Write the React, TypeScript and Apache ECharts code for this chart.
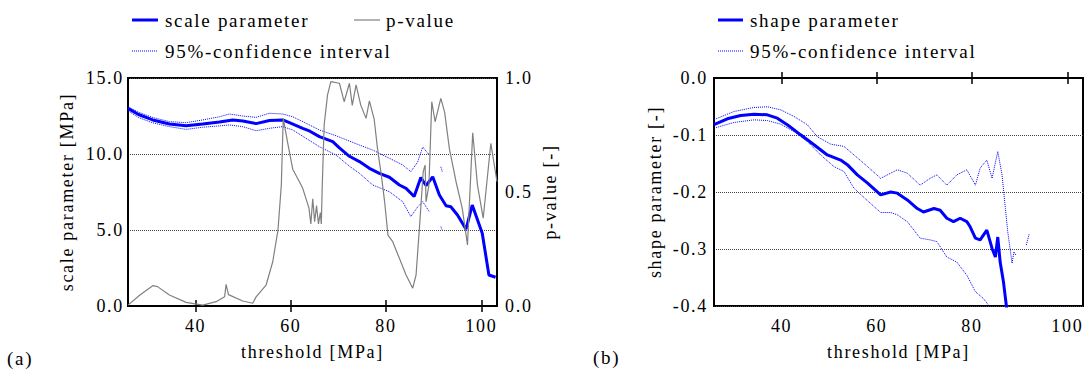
import React, { useEffect, useRef } from "react";
import * as echarts from "echarts";

// ---------- panel (a): scale parameter ----------
const scaleX = [25.8, 28, 31, 34.5, 38, 41.5, 45, 47.8, 49.9, 52.7, 55.5, 58.3, 59.7, 62.5, 64, 66, 68.8, 70.2, 72.3, 74.4, 76.5, 78.6, 80.7, 82.8, 84.2, 85.9, 87.3, 88.4, 89.8, 91.2, 92.6, 93.6, 95, 96.8, 98.1, 100.2, 101.6, 103];
const scaleY = [13.0, 12.6, 12.24, 11.97, 11.86, 11.97, 12.1, 12.24, 12.17, 12.0, 12.2, 12.24, 12.06, 11.69, 11.5, 11.14, 10.81, 10.4, 9.85, 9.5, 9.06, 8.73, 8.47, 7.96, 7.74, 7.2, 8.45, 7.93, 8.5, 7.3, 6.6, 6.53, 5.99, 5.05, 6.64, 4.78, 2.04, 1.89];

const scaleUpX = [25.8, 28, 31, 34.5, 38, 41.5, 45, 47.1, 49.9, 52.7, 55.5, 58.3, 60.4, 63.2, 66, 69.5, 72.3, 74.4, 77.2, 80.7, 83.5, 85.2, 86.6, 87.7, 89.1, 90.2, 91.5, 91.8];
const scaleUpY = [13.1, 12.75, 12.4, 12.13, 12.06, 12.24, 12.45, 12.63, 12.5, 12.41, 12.68, 12.63, 12.45, 12.02, 11.58, 11.2, 10.85, 10.59, 10.26, 9.72, 9.28, 8.84, 9.45, 10.46, 9.93, null, 9.16, 8.84];

const scaleLoX = [25.8, 28, 31, 34.5, 38, 41.5, 45, 47.1, 49.9, 52.7, 55.5, 58.3, 60.4, 63.2, 66, 69.5, 72.3, 74.4, 77.2, 80.7, 83.5, 85.2, 86.6, 87.7, 89.1, 90.2, 91.5, 91.8];
const scaleLoY = [12.85, 12.4, 12.05, 11.8, 11.62, 11.76, 11.85, 11.91, 11.8, 11.53, 11.69, 11.8, 11.58, 11.03, 10.48, 9.93, 9.2, 8.73, 7.96, 7.52, 6.86, 5.88, 6.5, 6.86, 6.2, null, 5.22, 5.0];

const pX = [25.8, 28.3, 31, 32, 34.5, 38, 41.5, 44.3, 46.1, 46.4, 46.9, 49.9, 52, 52.7, 54.8, 56.2, 57.3, 58, 58.4, 59.3, 60.4, 61.8, 62.5, 63.5, 63.8, 64.2, 64.6, 65, 65.4, 65.8, 66.2, 66.4, 66.6, 67, 67.7, 68.4, 70.2, 71.2, 72.3, 72.9, 73.7, 74.7, 75.8, 76.5, 77.5, 78.2, 79, 79.7, 80.4, 81.4, 82.8, 84.2, 85.6, 86.3, 87.1, 87.8, 88.2, 88.4, 89, 89.6, 90.3, 91.5, 92.3, 93.3, 94.7, 96, 97.1, 98.2, 99.2, 100.4, 102, 103.3];
const pY = [0.004, 0.048, 0.089, 0.085, 0.048, 0.016, 0.004, 0.019, 0.041, 0.095, 0.05, 0.022, 0.012, 0.04, 0.092, 0.194, 0.333, 0.53, 0.823, 0.72, 0.6, 0.545, 0.516, 0.45, 0.43, 0.36, 0.47, 0.37, 0.44, 0.36, 0.41, 0.36, 0.53, 0.794, 0.925, 0.984, 0.977, 0.896, 0.977, 0.88, 0.97, 0.88, 0.823, 0.9, 0.82, 0.69, 0.575, 0.457, 0.311, 0.282, 0.209, 0.136, 0.078, 0.136, 0.37, 0.589, 0.618, 0.457, 0.53, 0.896, 0.808, 0.911, 0.85, 0.69, 0.545, 0.428, 0.268, 0.76, 0.53, 0.385, 0.713, 0.545];

// ---------- panel (b): shape parameter ----------
const shapeX = [25.8, 28.6, 31.4, 34.2, 37, 39.1, 41.2, 44, 46.8, 49.6, 52.4, 53.8, 55.9, 58, 60.8, 62.9, 64.3, 66.4, 68.5, 69.8, 72, 73.3, 74.7, 76.1, 77.5, 78.9, 79.6, 80.7, 81.7, 83.1, 84.2, 84.9, 85.4, 85.9, 86.6, 87.5];
const shapeY = [-0.082, -0.0716, -0.0658, -0.0634, -0.0646, -0.0704, -0.082, -0.0997, -0.117, -0.135, -0.144, -0.152, -0.17, -0.184, -0.205, -0.2, -0.202, -0.214, -0.229, -0.235, -0.229, -0.232, -0.246, -0.252, -0.246, -0.252, -0.261, -0.281, -0.284, -0.267, -0.299, -0.314, -0.279, -0.323, -0.358, -0.42];

const shapeUpX = [25.8, 30, 34.2, 37, 39.8, 42.6, 45.4, 47.5, 50.3, 53.1, 55.2, 58, 60.8, 62.9, 64.3, 66.4, 69.1, 71.2, 72.6, 74.7, 76.8, 78.9, 80.7, 81.7, 83.1, 84.2, 85.4, 86.3, 87, 87.5, 88.4, 88.8, 89.3, 90.3, 91.4, 92];
const shapeUpY = [-0.073, -0.0588, -0.0517, -0.0505, -0.0558, -0.0675, -0.082, -0.103, -0.116, -0.12, -0.135, -0.155, -0.176, -0.167, -0.161, -0.167, -0.188, -0.176, -0.17, -0.188, -0.17, -0.161, -0.188, -0.158, -0.144, -0.176, -0.129, -0.17, -0.229, -0.27, -0.325, -0.305, -0.312, null, -0.293, -0.273];

const shapeLoX = [25.8, 30, 34.2, 37, 39.8, 42.6, 45.4, 48.2, 51, 53.1, 55.2, 58, 60.8, 62.9, 64.3, 66.4, 69.1, 71.2, 72.6, 74.7, 76.8, 78.9, 80.7, 82.4, 83.5, 84.5];
const shapeLoY = [-0.088, -0.078, -0.0734, -0.0746, -0.081, -0.094, -0.1115, -0.135, -0.1555, -0.164, -0.1935, -0.215, -0.236, -0.236, -0.24, -0.252, -0.281, -0.284, -0.287, -0.314, -0.323, -0.346, -0.375, -0.387, -0.399, -0.42];

const xTicks = [40, 60, 80, 100];
const xMin = 25.8;
const xMax = 103.3;

function zip(xs: number[], ys: (number | null)[]) {
  return xs.map((x, i) => [x, ys[i] === null ? "-" : ys[i]]);
}

const FONT = "Liberation Serif";
const txt = { fontFamily: FONT, fontSize: 18, color: "#000" };
const fmt1 = (v: number) => (Math.abs(v) < 1e-9 ? "0.0" : v.toFixed(1));
const BLUE = "#0000ff";
const GRAY = "#808080";

function xAxes(gi: number) {
  const tick = {
    show: true,
    inside: true,
    length: 6,
    customValues: xTicks,
    lineStyle: { color: "#000", width: 1.5 },
  };
  return [
    {
      type: "value",
      gridIndex: gi,
      min: xMin,
      max: xMax,
      position: "bottom",
      axisLine: { show: true, lineStyle: { color: "#000", width: 2 } },
      axisTick: tick,
      axisLabel: { customValues: xTicks, margin: 11, ...txt },
      splitLine: { show: false },
      name: "threshold [MPa]",
      nameLocation: "middle",
      nameGap: 37,
      nameTextStyle: txt,
    },
    {
      type: "value",
      gridIndex: gi,
      min: xMin,
      max: xMax,
      position: "top",
      axisLine: { show: true, lineStyle: { color: "#000", width: 2 } },
      axisTick: tick,
      axisLabel: { show: false },
      splitLine: { show: false },
    },
  ];
}

const gridLine = { show: true, lineStyle: { type: "dotted", color: "#444", width: 1 } };

export default function App() {
  const ref = useRef<HTMLDivElement>(null);
  useEffect(() => {
    if (!ref.current) return;
    const chart = echarts.init(ref.current, null, { renderer: "svg" });
    const legendText = (x: number, y: number, t: string) => ({
      type: "text",
      x,
      y,
      style: { text: t, fontFamily: FONT, fontSize: 19, fill: "#000", align: "left", verticalAlign: "middle" },
    });
    const legendLine = (x1: number, x2: number, y: number, color: string, w: number, dash?: number[]) => ({
      type: "line",
      shape: { x1, y1: y, x2, y2: y },
      style: { stroke: color, lineWidth: w, lineDash: dash || null },
    });
    chart.setOption({
      animation: false,
      backgroundColor: "#fff",
      grid: [
        { left: 128, top: 78, width: 369, height: 228, show: true, borderColor: "#000", borderWidth: 2, backgroundColor: "transparent" },
        { left: 714, top: 78, width: 369, height: 228, show: true, borderColor: "#000", borderWidth: 2, backgroundColor: "transparent" },
      ],
      xAxis: [...xAxes(0), ...xAxes(1)],
      yAxis: [
        {
          type: "value",
          gridIndex: 0,
          min: 0,
          max: 15,
          interval: 5,
          position: "left",
          axisLine: { show: true, lineStyle: { color: "#000", width: 2 } },
          axisTick: { show: false },
          axisLabel: { formatter: fmt1, margin: 4, ...txt },
          splitLine: gridLine,
          name: "scale parameter [MPa]",
          nameLocation: "middle",
          nameGap: 52,
          nameTextStyle: txt,
        },
        {
          type: "value",
          gridIndex: 0,
          min: 0,
          max: 1,
          interval: 0.5,
          position: "right",
          axisLine: { show: true, lineStyle: { color: "#000", width: 2 } },
          axisTick: { show: false },
          axisLabel: { formatter: fmt1, margin: 8, ...txt },
          splitLine: { show: false },
          name: "p-value [-]",
          nameLocation: "middle",
          nameGap: 44,
          nameTextStyle: txt,
        },
        {
          type: "value",
          gridIndex: 1,
          min: -0.4,
          max: 0,
          interval: 0.1,
          position: "left",
          axisLine: { show: true, lineStyle: { color: "#000", width: 2 } },
          axisTick: { show: false },
          axisLabel: { formatter: fmt1, margin: 6, ...txt },
          splitLine: gridLine,
          name: "shape parameter [-]",
          nameLocation: "middle",
          nameGap: 50,
          nameTextStyle: txt,
        },
      ],
      series: [
        { type: "line", xAxisIndex: 0, yAxisIndex: 0, data: zip(scaleUpX, scaleUpY), showSymbol: false, silent: true, lineStyle: { color: BLUE, width: 1, type: "dotted" } },
        { type: "line", xAxisIndex: 0, yAxisIndex: 0, data: zip(scaleLoX, scaleLoY), showSymbol: false, silent: true, lineStyle: { color: BLUE, width: 1, type: "dotted" } },
        { type: "line", xAxisIndex: 0, yAxisIndex: 0, data: zip(scaleX, scaleY), showSymbol: false, silent: true, lineStyle: { color: BLUE, width: 3 } },
        { type: "line", xAxisIndex: 0, yAxisIndex: 1, data: zip(pX, pY), showSymbol: false, silent: true, lineStyle: { color: GRAY, width: 1.2 } },
        { type: "line", xAxisIndex: 2, yAxisIndex: 2, data: zip(shapeUpX, shapeUpY), showSymbol: false, silent: true, lineStyle: { color: BLUE, width: 1, type: "dotted" } },
        { type: "line", xAxisIndex: 2, yAxisIndex: 2, data: zip(shapeLoX, shapeLoY), showSymbol: false, silent: true, lineStyle: { color: BLUE, width: 1, type: "dotted" } },
        { type: "line", xAxisIndex: 2, yAxisIndex: 2, data: zip(shapeX, shapeY), showSymbol: false, silent: true, lineStyle: { color: BLUE, width: 3 } },
      ],
      graphic: [
        legendLine(132, 158, 20, BLUE, 3),
        legendText(165, 20, "scale parameter"),
        legendLine(354, 380, 20, GRAY, 1.2),
        legendText(386, 20, "p-value"),
        legendLine(132, 158, 51, BLUE, 1, [1, 1]),
        legendText(165, 51, "95%-confidence interval"),
        legendLine(718, 743, 20, BLUE, 3),
        legendText(750, 20, "shape parameter"),
        legendLine(718, 743, 51, BLUE, 1, [1, 1]),
        legendText(750, 51, "95%-confidence interval"),
        legendText(7, 358, "(a)"),
        legendText(593, 357, "(b)"),
      ],
    });
    return () => chart.dispose();
  }, []);
  return (
    <>
      <style>{"#chartbox svg text{font-family:'Liberation Serif','DejaVu Serif',serif !important;letter-spacing:1.7px}"}</style>
      <div
        id="chartbox"
        ref={ref}
        style={{ position: "absolute", left: 0, top: 0, width: 1090, height: 370 }}
      />
    </>
  );
}
